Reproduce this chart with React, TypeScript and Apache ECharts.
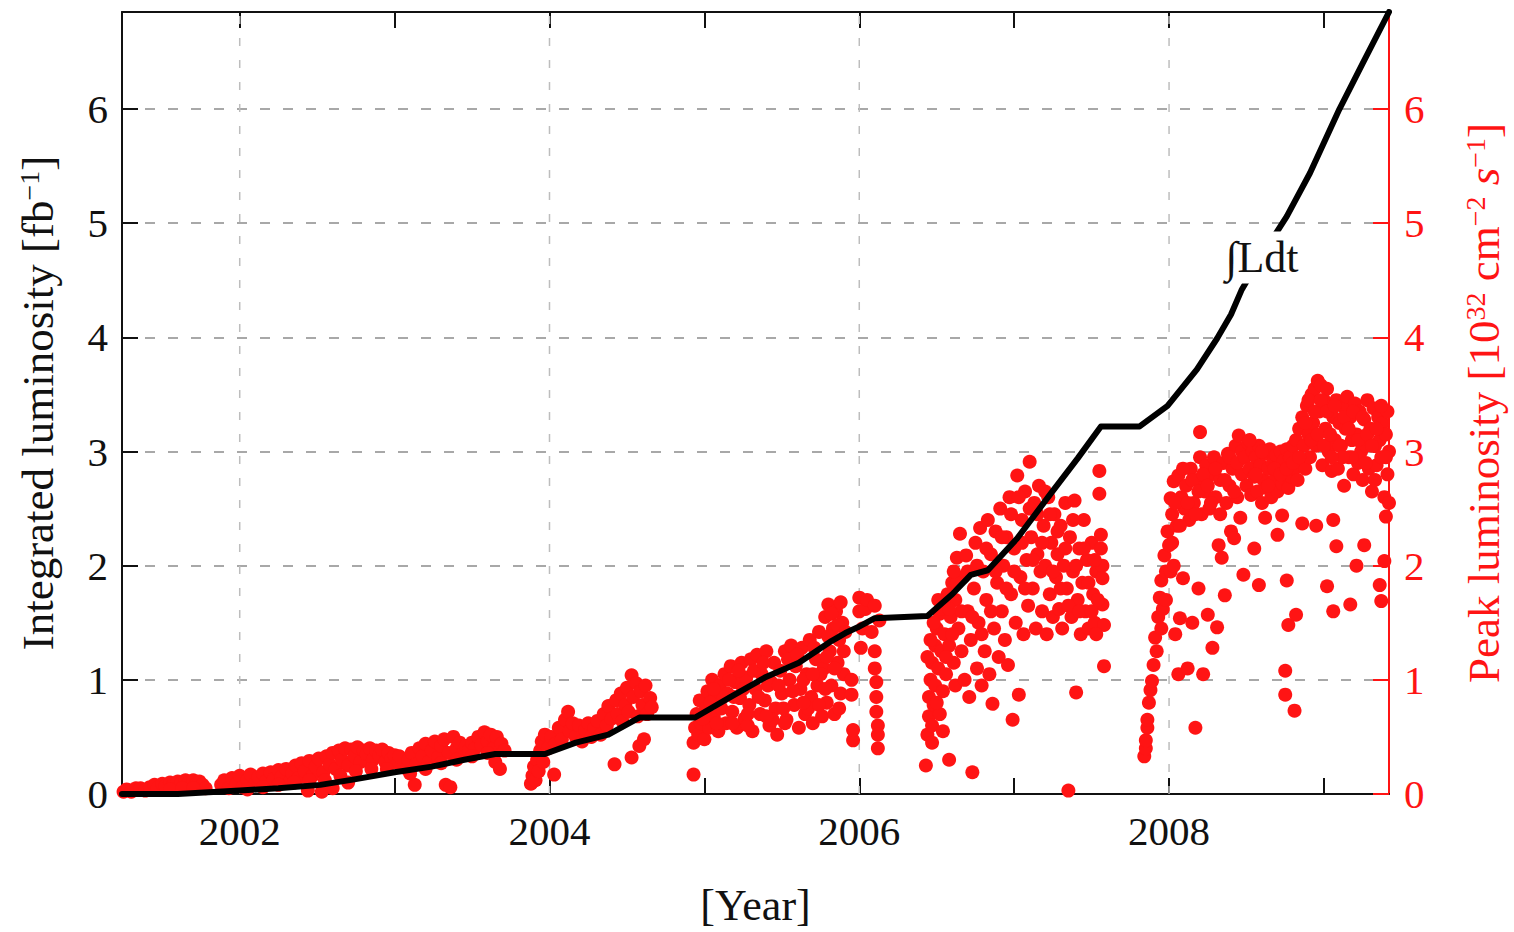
import React, { useEffect, useRef } from "react";
import * as echarts from "echarts";

// ---- axis ranges / ticks ----
const yearMin = 2001.24;
const yearMax = 2009.42;
const yearTicks = [2002, 2003, 2004, 2005, 2006, 2007, 2008, 2009];
const yearLabels = [2002, 2004, 2006, 2008];
const yearGrid = [2002, 2004, 2006, 2008];
const lumMin = 0;
const lumMax = 6.85;
const lumTicks = [0, 1, 2, 3, 4, 5, 6];

// ---- integrated luminosity (fb^-1) ----
const intYears = [
  2001.24, 2001.6, 2002.0, 2002.25, 2002.52, 2002.75, 2003.0, 2003.24, 2003.45, 2003.65, 2003.97,
  2004.17, 2004.38, 2004.58, 2004.94, 2005.17, 2005.39, 2005.61, 2005.82, 2005.91, 2005.99,
  2006.1, 2006.44, 2006.6, 2006.72, 2006.83, 2007.02, 2007.23, 2007.41, 2007.56, 2007.81,
  2007.99, 2008.08, 2008.18, 2008.31, 2008.4, 2008.47, 2008.6, 2008.76, 2008.91, 2009.1,
  2009.25, 2009.42,
];
const intValues = [
  0.0, 0.0, 0.03, 0.05, 0.08, 0.13, 0.19, 0.24, 0.3, 0.35, 0.35,
  0.45, 0.52, 0.67, 0.67, 0.85, 1.02, 1.15, 1.34, 1.41, 1.46,
  1.54, 1.56, 1.75, 1.92, 1.96, 2.24, 2.62, 2.94, 3.22, 3.22,
  3.4, 3.55, 3.72, 3.99, 4.2, 4.42, 4.72, 5.06, 5.44, 6.0,
  6.4, 6.85,
];
const labelAt = [2008.6, 4.7];

// ---- peak luminosity (10^32 cm^-2 s^-1), per run period ----
const peak2001 = [
  [2001.25, 0.02], [2001.27, 0.04], [2001.3, 0.02], [2001.33, 0.05], [2001.36, 0.05], [2001.39, 0.03],
  [2001.42, 0.06], [2001.45, 0.08], [2001.47, 0.05], [2001.5, 0.09], [2001.52, 0.07], [2001.55, 0.1],
  [2001.57, 0.08], [2001.6, 0.11], [2001.62, 0.09], [2001.65, 0.12], [2001.67, 0.1], [2001.7, 0.12],
  [2001.72, 0.09], [2001.74, 0.11], [2001.76, 0.08], [2001.78, 0.05], [2001.55, 0.04], [2001.63, 0.05],
  [2001.7, 0.05],
];
const peak2002 = [
  [2001.88, 0.08], [2001.9, 0.12], [2001.93, 0.05], [2001.95, 0.14], [2001.98, 0.09], [2002.0, 0.16],
  [2002.02, 0.06], [2002.05, 0.12], [2002.07, 0.17], [2002.1, 0.09], [2002.12, 0.15], [2002.15, 0.18],
  [2002.17, 0.11], [2002.2, 0.19], [2002.22, 0.13], [2002.25, 0.21], [2002.27, 0.15], [2002.3, 0.22],
  [2002.32, 0.1], [2002.34, 0.18], [2002.36, 0.25], [2002.38, 0.14], [2002.4, 0.27], [2002.42, 0.2],
  [2002.44, 0.03], [2002.45, 0.29], [2002.47, 0.16], [2002.49, 0.24], [2002.51, 0.31], [2002.53, 0.02],
  [2002.54, 0.19], [2002.56, 0.33], [2002.58, 0.26], [2002.6, 0.36], [2002.62, 0.22], [2002.64, 0.38],
  [2002.66, 0.3], [2002.68, 0.4], [2002.7, 0.25], [2002.72, 0.39], [2002.74, 0.33], [2002.76, 0.41],
  [2002.78, 0.28], [2002.8, 0.38], [2002.82, 0.35], [2002.84, 0.4], [2002.86, 0.3], [2002.88, 0.38],
  [2002.9, 0.34], [2002.92, 0.39], [2002.94, 0.28], [2002.96, 0.36], [2002.98, 0.31], [2003.0, 0.34],
  [2003.02, 0.27], [2003.03, 0.33], [2002.05, 0.04], [2002.15, 0.06], [2002.25, 0.08], [2002.35, 0.1],
  [2002.45, 0.12], [2002.55, 0.12], [2002.65, 0.16], [2002.75, 0.2], [2002.85, 0.22], [2002.95, 0.22],
  [2002.6, 0.05], [2002.7, 0.1],
];
const peak2003 = [
  [2003.08, 0.22], [2003.09, 0.3], [2003.11, 0.36], [2003.13, 0.08], [2003.14, 0.26], [2003.16, 0.4],
  [2003.18, 0.33], [2003.2, 0.44], [2003.22, 0.28], [2003.24, 0.38], [2003.26, 0.46], [2003.28, 0.32],
  [2003.3, 0.42], [2003.32, 0.48], [2003.33, 0.08], [2003.35, 0.36], [2003.36, 0.06], [2003.38, 0.5],
  [2003.4, 0.4], [2003.42, 0.45], [2003.44, 0.35], [2003.46, 0.42], [2003.48, 0.38], [2003.5, 0.45],
  [2003.52, 0.4], [2003.54, 0.5], [2003.56, 0.43], [2003.58, 0.54], [2003.6, 0.46], [2003.62, 0.52],
  [2003.64, 0.4], [2003.65, 0.28], [2003.66, 0.5], [2003.68, 0.22], [2003.69, 0.44], [2003.71, 0.38],
  [2003.1, 0.18], [2003.2, 0.22], [2003.3, 0.27], [2003.4, 0.3], [2003.5, 0.33], [2003.6, 0.36],
];
const peak2004 = [
  [2003.88, 0.09], [2003.89, 0.16], [2003.9, 0.24], [2003.91, 0.12], [2003.92, 0.3], [2003.93, 0.2],
  [2003.94, 0.38], [2003.95, 0.46], [2003.96, 0.28], [2003.97, 0.52], [2003.99, 0.4], [2004.01, 0.5],
  [2004.03, 0.17], [2004.04, 0.44], [2004.06, 0.58], [2004.08, 0.48], [2004.1, 0.65], [2004.12, 0.72],
  [2004.13, 0.55], [2004.15, 0.62], [2004.17, 0.5], [2004.19, 0.6], [2004.21, 0.46], [2004.23, 0.56],
  [2004.25, 0.62], [2004.27, 0.5], [2004.29, 0.58], [2004.31, 0.64], [2004.33, 0.52], [2004.35, 0.7],
  [2004.37, 0.6], [2004.38, 0.77], [2004.4, 0.66], [2004.42, 0.26], [2004.43, 0.82], [2004.44, 0.7],
  [2004.46, 0.88], [2004.47, 0.64], [2004.49, 0.78], [2004.5, 0.93], [2004.51, 0.72], [2004.53, 1.04],
  [2004.53, 0.32], [2004.54, 0.85], [2004.56, 0.97], [2004.57, 0.68], [2004.58, 0.42], [2004.59, 0.9],
  [2004.6, 0.78], [2004.61, 0.48], [2004.62, 0.95], [2004.63, 0.7], [2004.65, 0.84], [2004.66, 0.76],
];
const peak2005 = [
  [2004.93, 0.17], [2004.93, 0.45], [2004.94, 0.58], [2004.95, 0.7], [2004.96, 0.52], [2004.97, 0.82],
  [2004.98, 0.62], [2005.0, 0.48], [2005.01, 0.75], [2005.02, 0.9], [2005.03, 0.58], [2005.05, 1.0],
  [2005.06, 0.68], [2005.07, 0.85], [2005.09, 0.55], [2005.1, 0.95], [2005.11, 0.75], [2005.13, 1.05],
  [2005.14, 0.62], [2005.15, 0.88], [2005.17, 1.12], [2005.18, 0.72], [2005.2, 0.98], [2005.21, 0.58],
  [2005.23, 0.84], [2005.24, 1.15], [2005.26, 0.66], [2005.27, 1.02], [2005.29, 0.78], [2005.3, 1.18],
  [2005.31, 0.55], [2005.33, 0.92], [2005.34, 1.22], [2005.36, 0.7], [2005.37, 1.05], [2005.39, 0.82],
  [2005.4, 1.25], [2005.42, 0.6], [2005.43, 0.98], [2005.45, 1.15], [2005.46, 0.75], [2005.47, 0.52],
  [2005.49, 1.08], [2005.5, 0.88], [2005.52, 1.25], [2005.53, 0.65], [2005.55, 1.0], [2005.56, 1.3],
  [2005.58, 0.78], [2005.59, 1.12], [2005.61, 0.58], [2005.62, 0.92], [2005.63, 1.28], [2005.65, 0.7],
  [2005.66, 1.05], [2005.68, 1.35], [2005.69, 0.85], [2005.7, 0.62], [2005.72, 1.18], [2005.73, 0.95],
  [2005.74, 1.42], [2005.76, 0.68], [2005.77, 1.1], [2005.78, 1.55], [2005.79, 0.8], [2005.8, 1.66],
  [2005.81, 1.25], [2005.82, 0.95], [2005.83, 1.45], [2005.84, 0.7], [2005.85, 1.6], [2005.86, 1.15],
  [2005.87, 1.35], [2005.88, 0.88], [2005.89, 1.5], [2005.9, 1.05], [2005.95, 1.0], [2005.95, 0.87],
  [2005.96, 0.47], [2005.96, 0.56], [2006.0, 1.72], [2006.0, 1.6], [2006.01, 1.28], [2006.02, 1.45],
  [2006.04, 1.62], [2006.05, 1.7], [2006.08, 1.42], [2006.1, 1.65], [2006.1, 1.25], [2006.1, 1.1],
  [2006.11, 0.98], [2006.11, 0.85], [2006.11, 0.72], [2006.12, 0.6], [2006.12, 0.52], [2006.12, 0.4],
  [2006.13, 1.52], [2004.99, 0.66], [2005.04, 0.8], [2005.08, 0.62], [2005.12, 0.85], [2005.16, 1.0],
  [2005.19, 0.85], [2005.22, 1.08], [2005.25, 0.92], [2005.28, 0.6], [2005.32, 1.08], [2005.35, 0.85],
  [2005.38, 1.15], [2005.41, 0.95], [2005.44, 0.65], [2005.48, 0.95], [2005.51, 0.75], [2005.54, 1.18],
  [2005.57, 0.9], [2005.6, 1.22], [2005.64, 1.0], [2005.67, 0.75], [2005.71, 1.28], [2005.75, 1.05],
  [2005.78, 0.92], [2005.8, 1.38], [2005.82, 1.58], [2005.84, 1.1], [2005.86, 1.48], [2005.88, 1.68],
  [2005.9, 1.25], [2005.91, 1.42], [2005.87, 0.75], [2005.06, 0.92], [2005.18, 0.62], [2005.28, 0.7],
  [2005.4, 0.68], [2005.52, 0.62], [2005.64, 0.8], [2005.74, 0.78], [2005.79, 1.2], [2005.7, 1.05],
];
const peak2006 = [
  [2006.43, 0.25], [2006.44, 0.52], [2006.45, 0.68], [2006.45, 0.85], [2006.46, 1.0], [2006.47, 0.6],
  [2006.47, 1.15], [2006.48, 0.78], [2006.49, 1.3], [2006.49, 0.95], [2006.5, 1.45], [2006.51, 1.1],
  [2006.52, 1.58], [2006.52, 0.7], [2006.53, 1.25], [2006.54, 0.9], [2006.55, 1.65], [2006.55, 1.4],
  [2006.56, 1.05], [2006.57, 1.75], [2006.58, 1.3], [2006.58, 0.3], [2006.59, 1.55], [2006.6, 1.85],
  [2006.61, 1.15], [2006.62, 1.7], [2006.62, 0.95], [2006.63, 2.07], [2006.64, 1.45], [2006.65, 2.28],
  [2006.66, 1.25], [2006.67, 1.9], [2006.68, 1.0], [2006.69, 2.09], [2006.7, 1.6], [2006.71, 0.85],
  [2006.72, 1.35], [2006.73, 0.19], [2006.74, 1.8], [2006.75, 2.2], [2006.76, 1.1], [2006.77, 1.5],
  [2006.78, 2.33], [2006.79, 0.95], [2006.8, 1.95], [2006.81, 1.25], [2006.82, 1.7], [2006.83, 2.4],
  [2006.84, 1.05], [2006.85, 2.1], [2006.86, 0.79], [2006.87, 1.45], [2006.88, 2.3], [2006.89, 1.85],
  [2006.9, 1.2], [2006.91, 2.5], [2006.92, 1.6], [2006.93, 2.0], [2006.94, 1.35], [2006.95, 2.25],
  [2006.96, 1.13], [2006.97, 2.6], [2006.98, 1.75], [2006.99, 0.65], [2007.0, 2.15], [2007.01, 1.5],
  [2007.02, 2.79], [2007.03, 0.87], [2007.04, 1.9], [2007.05, 2.4], [2007.06, 1.4], [2007.07, 2.65],
  [2007.08, 2.05], [2007.09, 1.65], [2007.1, 2.91], [2007.11, 2.25], [2007.12, 1.8], [2007.13, 2.55],
  [2007.14, 1.45], [2007.15, 2.1], [2007.16, 2.7], [2007.17, 1.95], [2007.18, 1.6], [2007.19, 2.35],
  [2007.2, 2.0], [2007.21, 1.4], [2007.22, 2.6], [2007.23, 1.75], [2007.24, 2.2], [2007.25, 1.55],
  [2007.26, 2.45], [2007.27, 1.9], [2007.28, 2.1], [2007.29, 1.62], [2007.3, 2.35], [2007.31, 1.45],
  [2007.32, 2.0], [2007.33, 2.55], [2007.34, 1.8], [2007.35, 0.03], [2007.36, 2.25], [2007.37, 1.55],
  [2007.38, 1.95], [2007.39, 2.57], [2007.4, 0.89], [2007.41, 1.7], [2007.42, 2.15], [2007.43, 1.4],
  [2007.44, 1.85], [2007.45, 2.4], [2007.46, 1.6], [2007.47, 2.05], [2007.48, 1.45], [2007.5, 2.2],
  [2007.51, 1.75], [2007.52, 1.5], [2007.53, 1.95], [2007.55, 2.83], [2007.55, 2.63], [2007.56, 2.27],
  [2007.56, 2.15], [2007.57, 2.0], [2007.57, 1.89], [2007.57, 1.66], [2007.58, 1.48], [2007.58, 1.12],
  [2006.46, 1.35], [2006.48, 1.5], [2006.5, 0.8], [2006.53, 1.62], [2006.56, 1.2], [2006.6, 1.4],
  [2006.63, 1.85], [2006.66, 1.6], [2006.7, 1.95], [2006.73, 1.55], [2006.76, 2.0], [2006.79, 1.4],
  [2006.82, 2.15], [2006.85, 1.6], [2006.88, 1.95], [2006.92, 2.25], [2006.95, 1.8], [2006.98, 2.45],
  [2007.0, 1.95], [2007.03, 2.6], [2007.05, 2.2], [2007.07, 1.8], [2007.1, 2.5], [2007.12, 2.05],
  [2007.15, 2.45], [2007.18, 2.2], [2007.2, 2.65], [2007.23, 2.45], [2007.25, 1.95], [2007.28, 2.3],
  [2007.3, 1.8], [2007.33, 2.15], [2007.35, 1.65], [2007.38, 2.4], [2007.4, 2.0], [2007.42, 1.6],
  [2007.45, 2.15], [2007.48, 1.85], [2007.5, 1.6], [2007.52, 2.05], [2007.54, 1.7], [2007.53, 1.4],
  [2006.44, 1.2], [2006.47, 0.45], [2006.51, 1.7], [2006.54, 0.55], [2006.58, 1.62], [2006.61, 1.95],
];
const peak2008 = [
  [2007.84, 0.33], [2007.85, 0.4], [2007.85, 0.47], [2007.86, 0.58], [2007.86, 0.65], [2007.87, 0.8],
  [2007.88, 0.91], [2007.89, 0.99], [2007.9, 1.13], [2007.91, 1.37], [2007.92, 1.25], [2007.93, 1.55],
  [2007.94, 1.72], [2007.95, 1.87], [2007.96, 1.62], [2007.97, 2.09], [2007.98, 1.95], [2007.99, 2.3],
  [2008.0, 2.18], [2008.01, 2.59], [2008.02, 2.45], [2008.03, 2.74], [2008.04, 1.4], [2008.05, 2.35],
  [2008.06, 1.05], [2008.06, 2.79], [2008.07, 1.54], [2008.08, 2.6], [2008.09, 1.89], [2008.1, 2.5],
  [2008.11, 2.7], [2008.12, 1.1], [2008.13, 2.4], [2008.14, 2.85], [2008.15, 1.5], [2008.16, 2.55],
  [2008.17, 0.58], [2008.18, 2.75], [2008.19, 1.8], [2008.2, 2.95], [2008.2, 3.17], [2008.21, 2.45],
  [2008.22, 1.05], [2008.23, 2.65], [2008.24, 2.88], [2008.25, 1.57], [2008.26, 2.5], [2008.27, 2.8],
  [2008.28, 1.28], [2008.29, 2.95], [2008.3, 2.6], [2008.31, 1.46], [2008.32, 2.18], [2008.33, 2.75],
  [2008.34, 2.07], [2008.35, 2.9], [2008.36, 1.74], [2008.37, 2.55], [2008.38, 2.98], [2008.39, 2.7],
  [2008.4, 2.3], [2008.41, 2.85], [2008.42, 2.24], [2008.43, 3.05], [2008.44, 2.6], [2008.45, 3.14],
  [2008.46, 2.42], [2008.47, 2.8], [2008.48, 1.92], [2008.02, 2.2], [2008.04, 2.55], [2008.07, 2.35],
  [2008.09, 2.85], [2008.12, 2.55], [2008.15, 2.75], [2008.17, 2.45], [2008.19, 2.65], [2008.22, 2.8],
  [2008.25, 2.7], [2008.27, 2.55], [2008.3, 2.85], [2008.33, 2.45], [2008.36, 2.75], [2008.39, 2.95],
  [2008.42, 2.65], [2008.44, 2.9], [2008.47, 3.0], [2007.98, 1.7], [2007.95, 1.45], [2008.01, 1.95],
  [2008.03, 2.0],
];
const peak2009 = [
  [2008.49, 2.95], [2008.5, 2.7], [2008.51, 3.08], [2008.52, 2.85], [2008.53, 2.62], [2008.54, 3.0],
  [2008.55, 2.15], [2008.55, 2.78], [2008.56, 2.95], [2008.57, 2.65], [2008.58, 1.83], [2008.58, 3.05],
  [2008.59, 2.88], [2008.6, 2.55], [2008.61, 2.75], [2008.62, 2.42], [2008.62, 2.98], [2008.63, 2.68],
  [2008.64, 2.85], [2008.65, 3.02], [2008.66, 2.6], [2008.67, 2.9], [2008.68, 2.75], [2008.69, 2.97],
  [2008.7, 2.27], [2008.7, 2.65], [2008.71, 2.85], [2008.72, 3.0], [2008.73, 2.44], [2008.73, 2.72],
  [2008.74, 2.92], [2008.75, 1.08], [2008.75, 0.87], [2008.75, 2.8], [2008.76, 1.87], [2008.76, 3.02],
  [2008.77, 1.48], [2008.77, 2.68], [2008.78, 2.95], [2008.79, 2.78], [2008.8, 3.05], [2008.81, 0.73],
  [2008.81, 2.85], [2008.82, 1.57], [2008.82, 3.1], [2008.83, 2.75], [2008.84, 3.2], [2008.85, 2.92],
  [2008.86, 2.37], [2008.86, 3.3], [2008.87, 3.05], [2008.88, 2.85], [2008.89, 3.4], [2008.9, 3.15],
  [2008.91, 2.95], [2008.92, 3.5], [2008.93, 3.25], [2008.94, 3.55], [2008.95, 2.35], [2008.95, 3.05],
  [2008.96, 3.62], [2008.97, 3.35], [2008.98, 3.58], [2008.99, 2.88], [2009.0, 3.45], [2009.01, 3.2],
  [2009.02, 1.82], [2009.02, 3.55], [2009.03, 3.0], [2009.04, 3.4], [2009.05, 2.83], [2009.06, 2.4],
  [2009.06, 1.6], [2009.06, 3.3], [2009.07, 3.1], [2009.08, 2.17], [2009.08, 3.45], [2009.09, 2.85],
  [2009.1, 3.25], [2009.11, 3.05], [2009.12, 3.4], [2009.13, 2.7], [2009.14, 3.2], [2009.15, 3.48],
  [2009.16, 2.95], [2009.17, 1.66], [2009.17, 3.3], [2009.18, 3.1], [2009.19, 2.8], [2009.2, 3.42],
  [2009.21, 2.0], [2009.21, 3.15], [2009.22, 2.9], [2009.23, 3.35], [2009.24, 3.0], [2009.25, 2.75],
  [2009.26, 2.18], [2009.26, 3.28], [2009.27, 3.05], [2009.28, 3.45], [2009.29, 2.85], [2009.3, 3.2],
  [2009.31, 2.65], [2009.32, 3.38], [2009.33, 3.05], [2009.34, 2.88], [2009.35, 3.3], [2009.36, 1.83],
  [2009.36, 3.1], [2009.37, 1.69], [2009.37, 2.95], [2009.38, 3.25], [2009.39, 2.6], [2009.39, 2.04],
  [2009.4, 3.15], [2009.4, 2.43], [2009.41, 2.8], [2009.41, 3.35], [2009.42, 3.0], [2009.42, 2.55],
  [2008.52, 3.1], [2008.56, 2.8], [2008.6, 3.0], [2008.64, 2.7], [2008.68, 2.85], [2008.72, 2.8],
  [2008.76, 2.85], [2008.8, 2.9], [2008.84, 2.95], [2008.88, 3.25], [2008.9, 3.45], [2008.92, 3.1],
  [2008.94, 3.35], [2008.96, 3.15], [2008.98, 3.45], [2009.0, 3.05], [2009.02, 3.35], [2009.04, 3.15],
  [2009.07, 3.4], [2009.1, 3.05], [2009.13, 3.3], [2009.16, 3.2], [2009.19, 3.35], [2009.22, 3.1],
  [2009.25, 3.3], [2009.28, 3.15], [2009.31, 3.05], [2009.34, 3.2], [2009.37, 3.4], [2009.4, 2.95],
  [2009.33, 2.75], [2009.27, 2.9], [2009.18, 2.95], [2009.12, 2.95], [2009.05, 2.95],
];

const FONT = "'Liberation Serif', 'DejaVu Serif', serif";
const RED = "#ff1414";

export default function App() {
  const ref = useRef<HTMLDivElement>(null);

  useEffect(() => {
    if (!ref.current) return;
    const chart = echarts.init(ref.current, undefined, { renderer: "svg" });
    const peakData = [
      ...peak2001, ...peak2002, ...peak2003, ...peak2004,
      ...peak2005, ...peak2006, ...peak2008, ...peak2009,
    ];
    const intData = intYears.map((y, i) => [y, intValues[i]]);
    const sup = { fontSize: 28, fontFamily: FONT, verticalAlign: "top" as const, lineHeight: 28 };

    const gridSeries = yearGrid.map((y) => ({
      type: "line",
      name: "grid" + y,
      xAxisIndex: 0,
      yAxisIndex: 0,
      data: [[y, lumMin], [y, lumMax]],
      showSymbol: false,
      silent: true,
      z: 1,
      lineStyle: { color: "#bdbdbd", width: 1.5, type: [8, 14] },
    }));

    chart.setOption({
      animation: false,
      backgroundColor: "#ffffff",
      grid: { left: 122, right: 121, top: 12, bottom: 135, containLabel: false },
      xAxis: [
        {
          type: "value",
          position: "bottom",
          min: yearMin,
          max: yearMax,
          name: "[Year]",
          nameLocation: "middle",
          nameGap: 89,
          nameTextStyle: { fontFamily: FONT, fontSize: 44, color: "#111" },
          axisLine: { show: true, onZero: false, lineStyle: { color: "#111", width: 2 } },
          axisTick: { show: true, inside: true, length: 16, customValues: yearTicks, lineStyle: { color: "#111", width: 2 } },
          axisLabel: {
            show: true,
            customValues: yearLabels,
            margin: 16,
            fontFamily: FONT,
            fontSize: 41,
            color: "#111",
            formatter: (v: number) => String(Math.round(v)),
          },
          splitLine: { show: false },
          minorSplitLine: { show: false },
        },
        {
          type: "value",
          position: "top",
          min: yearMin,
          max: yearMax,
          axisLine: { show: true, onZero: false, lineStyle: { color: "#111", width: 2 } },
          axisTick: { show: true, inside: true, length: 16, customValues: yearTicks, lineStyle: { color: "#111", width: 2 } },
          axisLabel: { show: false },
          splitLine: { show: false },
          minorSplitLine: { show: false },
        },
      ],
      yAxis: [
        {
          type: "value",
          position: "left",
          min: lumMin,
          max: lumMax,
          interval: 1,
          name: "Integrated luminosity [fb{sup|−1}]",
          nameLocation: "middle",
          nameGap: 62,
          nameRotate: 90,
          nameTextStyle: { fontFamily: FONT, fontSize: 45, color: "#111", rich: { sup } },
          axisLine: { show: true, onZero: false, lineStyle: { color: "#111", width: 2 } },
          axisTick: { show: true, inside: true, length: 16, customValues: lumTicks, lineStyle: { color: "#111", width: 2 } },
          axisLabel: { customValues: lumTicks, margin: 14, fontFamily: FONT, fontSize: 41, color: "#111" },
          splitLine: { show: true, lineStyle: { color: "#8c8c8c", width: 1.5, type: [10, 13] } },
        },
        {
          type: "value",
          position: "right",
          min: lumMin,
          max: lumMax,
          interval: 1,
          name: "Peak luminosity [10{sup|32} cm{sup|−2} {it|s}{sup|−1}]",
          nameLocation: "middle",
          nameGap: 72,
          nameRotate: 90,
          nameTextStyle: {
            fontFamily: FONT,
            fontSize: 45,
            color: RED,
            rich: { sup: { ...sup, color: RED }, it: { fontFamily: FONT, fontSize: 45, fontStyle: "italic", color: RED } },
          },
          axisLine: { show: true, onZero: false, lineStyle: { color: RED, width: 2 } },
          axisTick: { show: true, inside: true, length: 16, customValues: lumTicks, lineStyle: { color: RED, width: 2 } },
          axisLabel: { customValues: lumTicks, margin: 15, fontFamily: FONT, fontSize: 41, color: RED },
          splitLine: { show: false },
        },
      ],
      series: [
        ...gridSeries,
        {
          type: "scatter",
          name: "peak",
          xAxisIndex: 0,
          yAxisIndex: 1,
          data: peakData,
          symbol: "circle",
          symbolSize: 14,
          itemStyle: { color: RED, opacity: 1 },
          z: 2,
        },
        {
          type: "line",
          name: "integrated",
          xAxisIndex: 0,
          yAxisIndex: 0,
          data: intData,
          showSymbol: false,
          smooth: false,
          lineStyle: { color: "#000", width: 6, cap: "round", join: "round" },
          z: 3,
          markPoint: {
            symbol: "rect",
            symbolSize: 1,
            itemStyle: { color: "rgba(0,0,0,0)" },
            data: [
              {
                coord: labelAt,
                label: {
                  show: true,
                  position: "inside",
                  formatter: "∫Ldt",
                  fontFamily: FONT,
                  fontSize: 44,
                  color: "#111",
                  backgroundColor: "#ffffff",
                  padding: [4, 6],
                },
              },
            ],
          },
        },
      ],
    });
    return () => chart.dispose();
  }, []);

  return (
    <div
      ref={ref}
      style={{ position: "fixed", left: 0, top: 0, width: 1514, height: 932, background: "#fff" }}
    />
  );
}
